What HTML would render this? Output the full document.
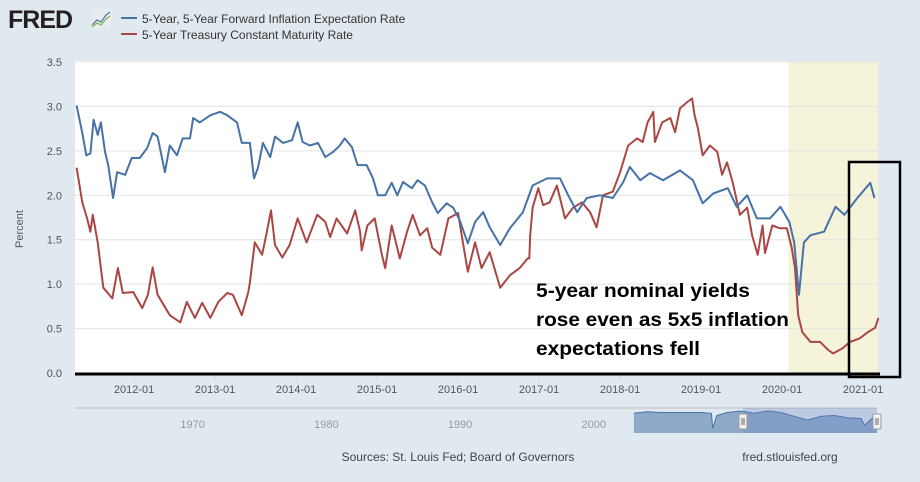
<!DOCTYPE html>
<html><head><meta charset="utf-8">
<style>
body{margin:0;background:#e1e9f0;font-family:"Liberation Sans",sans-serif;}
#wrap{position:relative;width:920px;height:482px;overflow:hidden;background:#e1e9f0;}
svg{position:absolute;left:0;top:0;}
</style></head>
<body>
<div id="wrap">
<svg id="chart" width="920" height="482"></svg>
</div>
<script>
// ---- data ----
const yTicks = [0, 0.5, 1.0, 1.5, 2.0, 2.5, 3.0, 3.5];
const xTickYears = [2012, 2013, 2014, 2015, 2016, 2017, 2018, 2019, 2020, 2021];
const xTickLabels = ["2012-01","2013-01","2014-01","2015-01","2016-01","2017-01","2018-01","2019-01","2020-01","2021-01"];
const navLabels = ["1970","1980","1990","2000","2010"];
const navYears = [1970,1980,1990,2000,2010];
const recessionStart = 2020.08, recessionEnd = 2021.185;

const blueDates = [2011.29,2011.36,2011.41,2011.46,2011.50,2011.55,2011.59,2011.64,2011.68,2011.74,2011.79,2011.89,2011.97,2012.07,2012.16,2012.23,2012.29,2012.38,2012.44,2012.53,2012.60,2012.69,2012.73,2012.81,2012.94,2013.06,2013.15,2013.27,2013.33,2013.43,2013.48,2013.53,2013.59,2013.68,2013.74,2013.84,2013.95,2014.02,2014.08,2014.17,2014.27,2014.36,2014.46,2014.54,2014.60,2014.69,2014.76,2014.87,2014.95,2015.01,2015.10,2015.18,2015.25,2015.32,2015.43,2015.50,2015.59,2015.68,2015.75,2015.86,2015.94,2016.02,2016.12,2016.21,2016.31,2016.39,2016.52,2016.64,2016.80,2016.92,2017.10,2017.26,2017.36,2017.47,2017.59,2017.75,2017.91,2018.04,2018.12,2018.25,2018.37,2018.53,2018.74,2018.90,2019.02,2019.15,2019.33,2019.44,2019.57,2019.69,2019.85,2019.98,2020.09,2020.15,2020.21,2020.27,2020.35,2020.52,2020.66,2020.77,2020.93,2021.09,2021.14];
const blueValues = [3.01,2.70,2.45,2.47,2.85,2.68,2.82,2.49,2.34,1.97,2.26,2.23,2.42,2.42,2.53,2.70,2.66,2.26,2.56,2.45,2.64,2.64,2.87,2.82,2.90,2.94,2.90,2.82,2.59,2.59,2.19,2.31,2.59,2.43,2.66,2.59,2.62,2.82,2.60,2.56,2.59,2.43,2.49,2.56,2.64,2.54,2.34,2.34,2.19,2.00,2.00,2.14,2.00,2.15,2.08,2.17,2.11,1.92,1.80,1.91,1.86,1.72,1.46,1.70,1.81,1.64,1.44,1.63,1.81,2.11,2.19,2.19,2.00,1.81,1.97,2.00,1.97,2.15,2.32,2.17,2.25,2.17,2.28,2.17,1.91,2.02,2.08,1.87,2.00,1.74,1.74,1.87,1.70,1.47,0.88,1.47,1.55,1.59,1.87,1.78,1.97,2.14,1.97];

const redDates = [2011.29,2011.36,2011.42,2011.46,2011.49,2011.55,2011.62,2011.73,2011.80,2011.86,2011.99,2012.10,2012.17,2012.23,2012.29,2012.44,2012.57,2012.65,2012.75,2012.84,2012.94,2013.04,2013.15,2013.22,2013.33,2013.41,2013.43,2013.49,2013.58,2013.64,2013.69,2013.74,2013.83,2013.92,2014.02,2014.13,2014.26,2014.36,2014.42,2014.50,2014.63,2014.73,2014.79,2014.81,2014.88,2014.97,2015.06,2015.10,2015.18,2015.28,2015.37,2015.44,2015.53,2015.62,2015.68,2015.78,2015.88,2016.00,2016.06,2016.12,2016.21,2016.29,2016.39,2016.52,2016.64,2016.76,2016.86,2016.88,2016.89,2016.92,2016.99,2017.05,2017.13,2017.22,2017.32,2017.42,2017.53,2017.63,2017.71,2017.79,2017.91,2018.00,2018.10,2018.21,2018.28,2018.34,2018.41,2018.43,2018.52,2018.62,2018.68,2018.74,2018.83,2018.89,2018.92,2018.96,2019.02,2019.11,2019.20,2019.26,2019.32,2019.39,2019.48,2019.57,2019.63,2019.70,2019.76,2019.79,2019.88,2019.97,2020.06,2020.12,2020.16,2020.20,2020.25,2020.35,2020.47,2020.57,2020.63,2020.75,2020.84,2020.96,2021.06,2021.15,2021.19];
const redValues = [2.31,1.92,1.74,1.59,1.78,1.47,0.96,0.84,1.18,0.90,0.91,0.73,0.88,1.19,0.88,0.65,0.57,0.80,0.62,0.79,0.62,0.80,0.90,0.88,0.65,0.91,1.02,1.47,1.33,1.59,1.83,1.44,1.30,1.44,1.74,1.47,1.78,1.70,1.53,1.74,1.57,1.83,1.59,1.38,1.66,1.74,1.33,1.18,1.66,1.29,1.59,1.78,1.55,1.63,1.41,1.33,1.74,1.80,1.47,1.14,1.47,1.18,1.36,0.96,1.10,1.18,1.29,1.29,1.55,1.86,2.08,1.89,1.92,2.11,1.74,1.86,1.92,1.81,1.64,2.00,2.04,2.26,2.56,2.64,2.60,2.82,2.94,2.60,2.82,2.87,2.71,2.98,3.05,3.09,2.90,2.76,2.45,2.56,2.49,2.23,2.37,2.15,1.78,1.86,1.55,1.33,1.66,1.35,1.66,1.63,1.63,1.41,1.18,0.65,0.46,0.35,0.35,0.26,0.22,0.28,0.35,0.39,0.46,0.51,0.62];

// navigator series (approx 5y5y history since 2003)
const navDates = [2003.0,2004.0,2005.0,2006.0,2007.0,2008.0,2008.8,2008.9,2009.2,2010.0,2011.0,2012.0,2013.0,2014.0,2015.0,2016.0,2017.0,2018.0,2019.0,2020.0,2020.25,2021.0,2021.19];
const navValues = [2.5,2.7,2.6,2.6,2.6,2.6,2.5,0.5,2.2,2.6,2.8,2.5,2.8,2.6,2.1,1.6,2.1,2.2,1.9,1.8,0.9,2.1,2.0];

// ---- scales ----
const X0 = 75, X1 = 878, T0 = 2011.27, T1 = 2021.185;
const Y0 = 373, YTOP = 62, V1 = 3.5;
function xs(t){ return X0 + (t - T0) / (T1 - T0) * (X1 - X0); }
function ys(v){ return Y0 - v / V1 * (Y0 - YTOP); }
const NX0 = 75, NX1 = 877, NT0 = 1961.2, NT1 = 2021.185;
function nxs(t){ return NX0 + (t - NT0) / (NT1 - NT0) * (NX1 - NX0); }
function nys(v){ return 432 - v / 3.2 * 24; }

const NS = "http://www.w3.org/2000/svg";
const svg = document.getElementById('chart');
function mk(tag, attrs, parent){
  const e = document.createElementNS(NS, tag);
  for (const k in attrs) e.setAttribute(k, attrs[k]);
  (parent || svg).appendChild(e);
  return e;
}

// plot background
let el = mk('rect', {x:X0, y:61, width:X1-X0, height:Y0-61, fill:'#ffffff'});



// recession shade
el = mk('rect', {x:xs(recessionStart), y:61, width:xs(recessionEnd)-xs(recessionStart), height:Y0-61, fill:'#f5f3d9'});



// grid + y labels
yTicks.forEach(function(v){
  const g = mk('line', {x1:X0, x2:X1, y1:ys(v), y2:ys(v), stroke:'#e3e3e3', 'stroke-width':1});
  
  
  const t = mk('text', {x:62, y:ys(v)+4, 'text-anchor':'end', 'font-size':11, fill:'#555'});
  t.textContent = v.toFixed(1);
  
  
});

// x ticks
xTickYears.forEach(function(yr, i){
  const tk = mk('line', {x1:xs(yr), x2:xs(yr), y1:Y0, y2:Y0+8, stroke:'#ccd6eb', 'stroke-width':1});
  
  
  const t = mk('text', {x:xs(yr), y:393, 'text-anchor':'middle', 'font-size':11, fill:'#555'});
  t.textContent = xTickLabels[i];
  
  
});

function linePath(dates, vals, fx, fy){
  let d = '';
  dates.forEach(function(t, i){ d += (i ? 'L' : 'M') + fx(t).toFixed(1) + ',' + fy(vals[i]).toFixed(1); });
  return d;
}

el = mk('path', {d:linePath(redDates, redValues, xs, ys), fill:'none', stroke:'#aa4643', 'stroke-width':2, 'stroke-linejoin':'round'});


el = mk('path', {d:linePath(blueDates, blueValues, xs, ys), fill:'none', stroke:'#4572a7', 'stroke-width':2, 'stroke-linejoin':'round'});



// x axis baseline (thick black)
el = mk('line', {x1:X0, x2:X1+2, y1:Y0+1, y2:Y0+1, stroke:'#000', 'stroke-width':3});



// annotation box
el = mk('rect', {x:849, y:162, width:51, height:215, fill:'none', stroke:'#000', 'stroke-width':2.5});



// annotation text
["5-year nominal yields","rose even as 5x5 inflation","expectations fell"].forEach(function(s, i){
  const t = mk('text', {x:536, y:297 + i*29, 'font-size':19.5, 'font-weight':'bold', fill:'#000', textLength: i==0?214:(i==1?253:164), lengthAdjust:'spacingAndGlyphs'});
  t.textContent = s;
  
  
});

// y axis title
el = mk('text', {x:0, y:0, transform:'translate(23,229) rotate(-90)', 'text-anchor':'middle', 'font-size':11, fill:'#555'});
el.textContent = 'Percent';



// navigator
el = mk('line', {x1:NX0, x2:NX1, y1:408, y2:408, stroke:'#cccccc', 'stroke-width':1.5});


navYears.forEach(function(yr, i){
  const t = mk('text', {x:nxs(yr), y:428, 'text-anchor':'middle', 'font-size':11, fill:'#999'});
  t.textContent = navLabels[i];
  
  
});
let navD = linePath(navDates, navValues, nxs, nys);
el = mk('path', {d: navD + 'L' + nxs(navDates[navDates.length-1]).toFixed(1) + ',433L' + nxs(navDates[0]).toFixed(1) + ',433Z', fill:'#8fa9c9', stroke:'none'});


el = mk('path', {d:navD, fill:'none', stroke:'#4572a7', 'stroke-width':1});


el = mk('rect', {x:743, y:408, width:134, height:25, fill:'rgba(102,133,194,0.3)'});


[743, 877].forEach(function(hx){
  const h = mk('rect', {x:hx-4, y:414, width:8, height:15, fill:'#f2f2f2', stroke:'#999', 'stroke-width':1, rx:1});
  
  
  mk('line', {x1:hx-1, x2:hx-1, y1:418, y2:425, stroke:'#666'});
  mk('line', {x1:hx+1, x2:hx+1, y1:418, y2:425, stroke:'#666'});
});

// footer
el = mk('text', {x:458, y:461, 'text-anchor':'middle', 'font-size':12, fill:'#444'});
el.textContent = 'Sources: St. Louis Fed; Board of Governors';


el = mk('text', {x:790, y:461, 'text-anchor':'middle', 'font-size':12, fill:'#444'});
el.textContent = 'fred.stlouisfed.org';



// logo
el = mk('text', {x:8, y:28, 'font-size':25, 'font-weight':'bold', fill:'#231f20', 'letter-spacing':'-1'});
el.textContent = 'FRED';


el = mk('rect', {x:91, y:9, width:20, height:19, fill:'#e8ecef', rx:2});


mk('path', {d:'M92,25 L97,20 L101,22 L106,15 L110,12', fill:'none', stroke:'#4572a7', 'stroke-width':1.2});
mk('path', {d:'M92,27 L97,23 L101,25 L106,19 L110,16', fill:'none', stroke:'#7ab648', 'stroke-width':1.2});

// legend
[['#4572a7','5-Year, 5-Year Forward Inflation Expectation Rate',19],['#aa4643','5-Year Treasury Constant Maturity Rate',35]].forEach(function(L){
  const ln = mk('line', {x1:121, x2:137, y1:L[2]-1, y2:L[2]-1, stroke:L[0], 'stroke-width':2});
  
  
  const t = mk('text', {x:142, y:L[2]+4, 'font-size':12, fill:'#333'});
  t.textContent = L[1];
  
  
});
</script>
</body></html>
